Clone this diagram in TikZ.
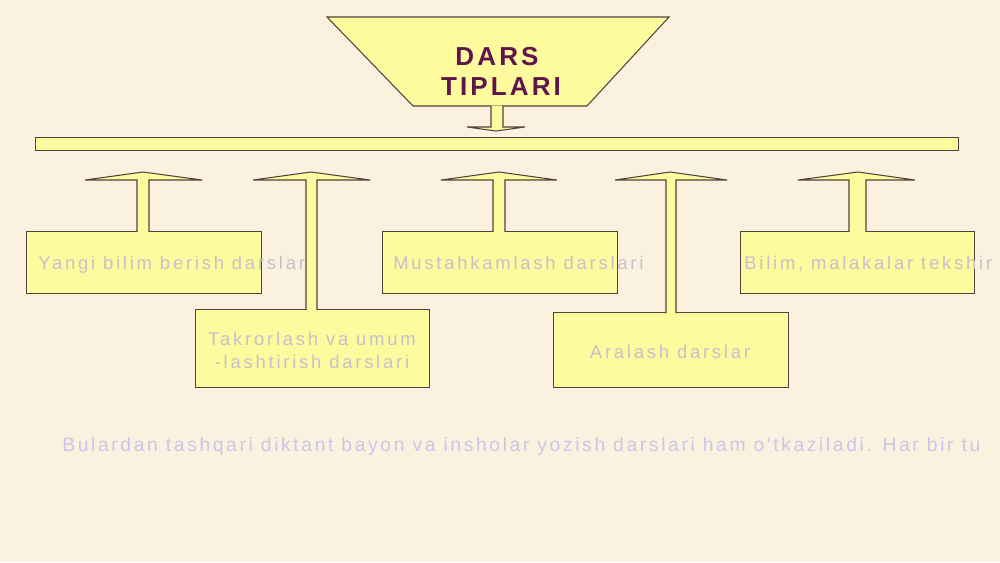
\documentclass[tikz,border=0pt]{standalone}
\usepackage{fontspec}
\setmainfont{Liberation Sans}
\newfontfamily\boxfont[LetterSpace=15]{Liberation Sans}
\newfontfamily\titlefont[LetterSpace=12]{Liberation Sans}
\newfontfamily\btmfont[LetterSpace=13.5]{Liberation Sans}
\definecolor{bgc}{RGB}{250,242,222}
\definecolor{yel}{RGB}{253,251,158}
\definecolor{edge}{RGB}{85,65,60}
\definecolor{titlec}{RGB}{95,20,75}
\definecolor{boxtxt}{RGB}{198,192,205}
\definecolor{btmtxt}{RGB}{203,198,235}
\tikzset{
  box/.style={draw=edge, fill=yel, line width=0.6pt, anchor=north west, inner sep=0pt},
  arr/.style={draw=edge, fill=yel, line width=0.6pt, line join=miter},
  btxt/.style={text=boxtxt, font=\boxfont\fontsize{10.5pt}{12pt}\selectfont, inner sep=0pt},
  ttl/.style={text=titlec, font=\titlefont\bfseries\fontsize{14.8pt}{17pt}\selectfont, inner sep=0pt},
}
\begin{document}
\begin{tikzpicture}[x=0.02cm, y=-0.02cm]
\useasboundingbox (0,0) rectangle (1000,562);
\fill[bgc] (0,0) rectangle (1000,562);
\clip (0,0) rectangle (1000,562);
% title trapezoid
\filldraw[arr] (327,17) -- (669,17) -- (587,106) -- (413,106) -- cycle;
\node[ttl, anchor=base] (t1) at (497,65) {DARS};
\node[ttl, anchor=base] (t2) at (501,95) {TIPLARI};
% small down arrow
\coordinate (dtip) at (496,131);
\filldraw[arr] (491,105.5) -- (491,127) -- (467,127) -- (dtip) -- (525,127) -- (503,127) -- (503,105.5);
% bar
\node[box, minimum width=18.46cm, minimum height=0.26cm] (bar) at (35,137) {};
% boxes
\node[box, minimum width=4.70cm, minimum height=1.24cm] (b1) at (26,231) {};
\node[box, minimum width=4.68cm, minimum height=1.56cm] (b2) at (195,309) {};
\node[box, minimum width=4.70cm, minimum height=1.24cm] (b3) at (382,231) {};
\node[box, minimum width=4.68cm, minimum height=1.24cm] (b4) at (740,231) {};
\node[box, minimum width=4.70cm, minimum height=1.50cm] (b5) at (553,312) {};
% texts
\node[btxt, anchor=base west] (l1) at (38,269) {Yangi bilim berish darslari};
\node[btxt, anchor=base west] (l3) at (393,269) {Mustahkamlash darslari};
\node[btxt, anchor=base west] (l4) at (744,269) {Bilim, malakalar tekshir};
\node[btxt, anchor=base, align=center] (l2a) at (312,345) {Takrorlash va umum};
\node[btxt, anchor=base, align=center] (l2b) at (312,368) {-lashtirish darslari};
\node[btxt, anchor=base] (l5) at (670,358) {Aralash darslar};
% up arrows
\filldraw[arr] (137,232) -- (137,180) -- (85,180) -- (143,172) -- (202,180) -- (149,180) -- (149,232);
\filldraw[arr] (306,310) -- (306,180) -- (253,180) -- (311,172) -- (370,180) -- (317,180) -- (317,310);
\filldraw[arr] (493,232) -- (493,180) -- (441,180) -- (499,172) -- (557,180) -- (505,180) -- (505,232);
\filldraw[arr] (666,313) -- (666,180) -- (615,180) -- (670,172) -- (727,180) -- (676,180) -- (676,313);
\filldraw[arr] (849,232) -- (849,180) -- (798,180) -- (858,172) -- (915,180) -- (866,180) -- (866,232);
% bottom text
\node[text=btmtxt, font=\btmfont\fontsize{11pt}{13pt}\selectfont, inner sep=0pt, anchor=base west] (btm) at (62,451) {Bulardan tashqari diktant bayon va insholar yozish darslari ham o'tkaziladi. Har bir tu};
\end{tikzpicture}
\end{document}
